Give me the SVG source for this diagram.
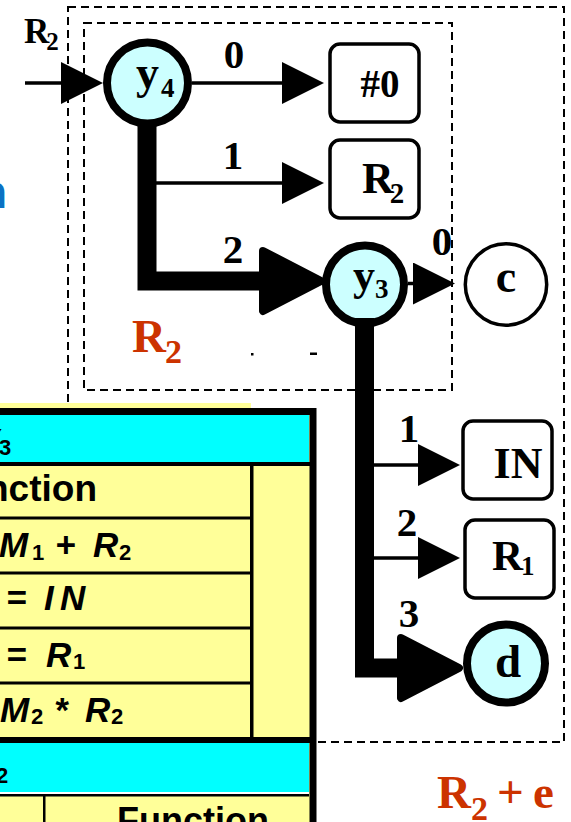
<svg xmlns="http://www.w3.org/2000/svg" width="571" height="822" viewBox="0 0 571 822">
<style>
.s{font-family:"Liberation Serif","Times New Roman",serif;font-weight:bold;fill:#000}
.red{fill:#CC3300}
.t{font-family:"Liberation Sans",Arial,sans-serif;font-weight:bold;fill:#000}
.i{font-style:italic}
.u{font-style:normal}
.dash{fill:none;stroke:#000;stroke-width:2;stroke-dasharray:8 5}
.node{fill:#CCFFFF;stroke:#000;stroke-width:8}
.box{fill:#fff;stroke:#000;stroke-width:3.5}
.thin{fill:none;stroke:#000;stroke-width:3.5;marker-end:url(#ah)}
.thick{fill:none;stroke:#000;stroke-width:19;stroke-linejoin:miter;marker-end:url(#ahb)}
.lab{font-size:41px;text-anchor:middle}
</style>
<defs>
<marker id="ah" viewBox="0 0 42 42" refX="6" refY="21" markerWidth="42" markerHeight="42" markerUnits="userSpaceOnUse" orient="auto"><path d="M0,0 L42,21 L0,42 Z" fill="#000"/></marker>
<marker id="ahb" viewBox="0 0 68 70" refX="12" refY="35" markerWidth="68" markerHeight="70" markerUnits="userSpaceOnUse" orient="auto"><path d="M5,5 L63,35 L5,65 Z" fill="#000" stroke="#000" stroke-width="8" stroke-linejoin="round"/></marker>
</defs>
<rect width="571" height="822" fill="#fff"/>
<text class="t" x="-21" y="208" font-size="46" style="fill:#0B72C4">n</text>
<g id="regions">
<rect class="dash" x="68" y="7" width="496" height="735"/>
<rect class="dash" x="84" y="23" width="368" height="367"/>
<text class="s red" x="132" y="352" font-size="47">R<tspan font-size="34" dx="-1" dy="11">2</tspan></text>
<text class="s red" x="437" y="808" font-size="47">R<tspan font-size="34" dy="12">2</tspan><tspan x="497" y="808">+</tspan><tspan x="533" y="808">e</tspan></text>
<rect x="251" y="353" width="2.5" height="2.5" fill="#000"/>
<rect x="310" y="352.5" width="7" height="2.5" fill="#000"/>
</g>
<g id="nodes">
<g id="y4"><circle class="node" cx="147.5" cy="83" r="40.5"/><text class="s" x="136" y="88" font-size="46">y<tspan font-size="27" dx="2" dy="9">4</tspan></text></g>
<g id="y3"><circle class="node" cx="365" cy="284.5" r="39"/><text class="s" x="353" y="290" font-size="44">y<tspan font-size="27" dy="8">3</tspan></text></g>
<g id="c"><circle cx="506" cy="284.5" r="40.7" fill="#fff" stroke="#000" stroke-width="3.5"/><text class="s" x="506" y="292" font-size="46" text-anchor="middle">c</text></g>
<g id="d"><circle class="node" cx="506" cy="663.5" r="39"/><text class="s" x="508" y="677" font-size="47" text-anchor="middle">d</text></g>
<g id="n0"><rect class="box" x="330" y="44" width="89" height="78" rx="10"/><text class="s" x="380" y="97" font-size="39" text-anchor="middle">#0</text></g>
<g id="nR2"><rect class="box" x="330" y="140" width="89" height="78" rx="10"/><text class="s" x="362" y="193" font-size="44">R<tspan font-size="29" dx="-4" dy="10">2</tspan></text></g>
<g id="nIN"><rect class="box" x="463" y="421" width="89" height="78" rx="10"/><text class="s" x="518" y="478" font-size="44" text-anchor="middle">IN</text></g>
<g id="nR1"><rect class="box" x="465" y="520" width="89" height="78" rx="10"/><text class="s" x="492" y="570" font-size="43">R<tspan font-size="27" dx="-2" dy="5">1</tspan></text></g>
</g>
<g id="connectors">
<path class="thin" d="M25,83 H67"/>
<path class="thin" d="M192,83 H288"/>
<path class="thin" d="M156,183 H288"/>
<path class="thick" d="M147,125 V281 H270"/>
<path class="thin" d="M408,283.5 H419"/>
<path class="thick" d="M364.5,318 V668 H408"/>
<path class="thin" d="M374,465 H424"/>
<path class="thin" d="M374,558 H424"/>
<text class="s" x="24" y="43" font-size="35">R<tspan font-size="25" dx="-3" dy="7">2</tspan></text>
<g class="s lab">
<text x="234" y="68">0</text>
<text x="233" y="169">1</text>
<text x="233" y="263">2</text>
<text x="442" y="255">0</text>
<text x="409" y="442">1</text>
<text x="407" y="536">2</text>
<text x="409" y="627">3</text>
</g>
</g>
<g id="table">
<rect x="0" y="403" width="251" height="8" fill="#FFFF99"/>
<rect x="-10" y="415" width="324" height="420" fill="#FFFF99"/>
<rect x="-10" y="415" width="319" height="47" fill="#00FFFF"/>
<rect x="-10" y="462" width="320" height="4" fill="#000"/>
<rect x="-10" y="516.5" width="261" height="3" fill="#000"/>
<rect x="-10" y="571.5" width="261" height="3" fill="#000"/>
<rect x="-10" y="626.5" width="261" height="3" fill="#000"/>
<rect x="-10" y="681.5" width="261" height="3" fill="#000"/>
<rect x="250" y="466" width="3.5" height="271" fill="#000"/>
<rect x="-10" y="737" width="324" height="6" fill="#000"/>
<rect x="-10" y="743" width="319" height="49" fill="#00FFFF"/>
<rect x="-10" y="792" width="319" height="2" fill="#fff"/>
<rect x="-10" y="794" width="319" height="2.5" fill="#000"/>
<rect x="43" y="796" width="2.5" height="40" fill="#000"/>
<rect x="-50" y="411.5" width="363" height="500" fill="none" stroke="#000" stroke-width="7"/>
<text class="t" x="-18" y="449" font-size="30">Y<tspan font-size="22" x="-1" y="455">3</tspan></text>
<text class="t" x="97" y="501" font-size="37" text-anchor="end">Function</text>
<text class="t i" font-size="35" y="557"><tspan x="-1">M</tspan><tspan class="u" x="32" y="560" font-size="22">1</tspan><tspan x="55" y="557">+</tspan><tspan x="93" y="557">R</tspan><tspan class="u" x="119" y="560" font-size="22">2</tspan></text>
<text class="t i" font-size="35" y="610"><tspan x="6">=</tspan><tspan x="44">I</tspan><tspan x="60">N</tspan></text>
<text class="t i" font-size="35" y="667"><tspan x="6">=</tspan><tspan x="46">R</tspan><tspan class="u" x="73" y="669" font-size="22">1</tspan></text>
<text class="t i" font-size="35" y="722"><tspan x="0">M</tspan><tspan class="u" x="31" y="724" font-size="22">2</tspan><tspan x="54" y="722">*</tspan><tspan x="85" y="722">R</tspan><tspan class="u" x="111" y="724" font-size="22">2</tspan></text>
<text class="t" x="-4" y="783" font-size="22">2</text>
<text class="t" x="193" y="833" font-size="36" text-anchor="middle">Function</text>
</g>
</svg>
